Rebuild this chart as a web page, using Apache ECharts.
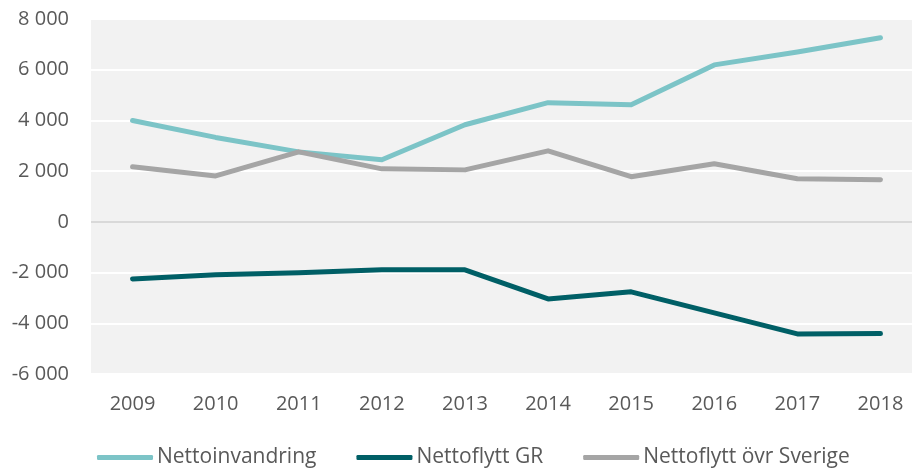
<!DOCTYPE html>
<html>
<head>
<meta charset="utf-8">
<script src="https://cdn.jsdelivr.net/npm/echarts@6/dist/echarts.min.js"></script>
<style>
  html, body { margin: 0; padding: 0; background: #fff; }
  #chart { width: 912px; height: 469px; }
</style>
</head>
<body>
<div id="chart"></div>
<script>
const years = ["2009", "2010", "2011", "2012", "2013", "2014", "2015", "2016", "2017", "2018"];
const nettoinvandring = [4000, 3330, 2760, 2450, 3830, 4700, 4620, 6190, 6700, 7260];
const nettoflyttGR = [-2250, -2090, -2010, -1890, -1890, -3040, -2760, -3590, -4420, -4400];
const nettoflyttSverige = [2170, 1810, 2760, 2090, 2050, 2800, 1780, 2290, 1700, 1660];

const chart = echarts.init(document.getElementById("chart"));

const fmt = (v) => {
  const s = Math.abs(v).toString().replace(/\B(?=(\d{3})+(?!\d))/g, " ");
  return (v < 0 ? "-" : "") + s;
};

const font = "'Open Sans', 'Liberation Sans', sans-serif";

function lineSeries(name, data, color) {
  return {
    name: name,
    type: "line",
    data: data,
    symbol: "none",
    lineStyle: { color: color, width: 5, cap: "round", join: "round" },
    itemStyle: { color: color },
  };
}

chart.setOption({
  animation: false,
  grid: {
    left: 91, width: 831, top: 19, bottom: 95,
    outerBoundsMode: "none",
    containLabel: false,
    show: true, backgroundColor: "#f2f2f2", borderWidth: 0,
  },
  legend: {
    top: 447,
    left: 97,
    padding: 0,
    itemWidth: 56,
    itemHeight: 5,
    itemGap: 40,
    icon: "roundRect",
    textStyle: { color: "#595959", fontSize: 21, fontFamily: font, padding: [0, 0, 0, -1] },
    data: ["Nettoinvandring", "Nettoflytt GR", "Nettoflytt övr Sverige"],
  },
  xAxis: {
    type: "category",
    data: years,
    boundaryGap: true,
    axisLine: { show: false },
    axisTick: { show: false },
    axisLabel: { color: "#595959", fontSize: 20, fontFamily: font, margin: 20 },
  },
  yAxis: {
    type: "value",
    min: -6000, max: 8000, interval: 2000,
    axisLine: { show: false },
    axisTick: { show: false },
    axisLabel: { color: "#595959", fontSize: 20, fontFamily: font, margin: 22, formatter: fmt },
    splitLine: {
      lineStyle: {
        width: 2,
        color: ["#ffffff", "#ffffff", "#ffffff", "#d9d9d9", "#ffffff", "#ffffff", "#ffffff", "#ffffff"],
      },
    },
  },
  series: [
    lineSeries("Nettoinvandring", nettoinvandring, "#7cc4c7"),
    lineSeries("Nettoflytt GR", nettoflyttGR, "#005f66"),
    lineSeries("Nettoflytt övr Sverige", nettoflyttSverige, "#a5a5a5"),
  ],
});
</script>
</body>
</html>
